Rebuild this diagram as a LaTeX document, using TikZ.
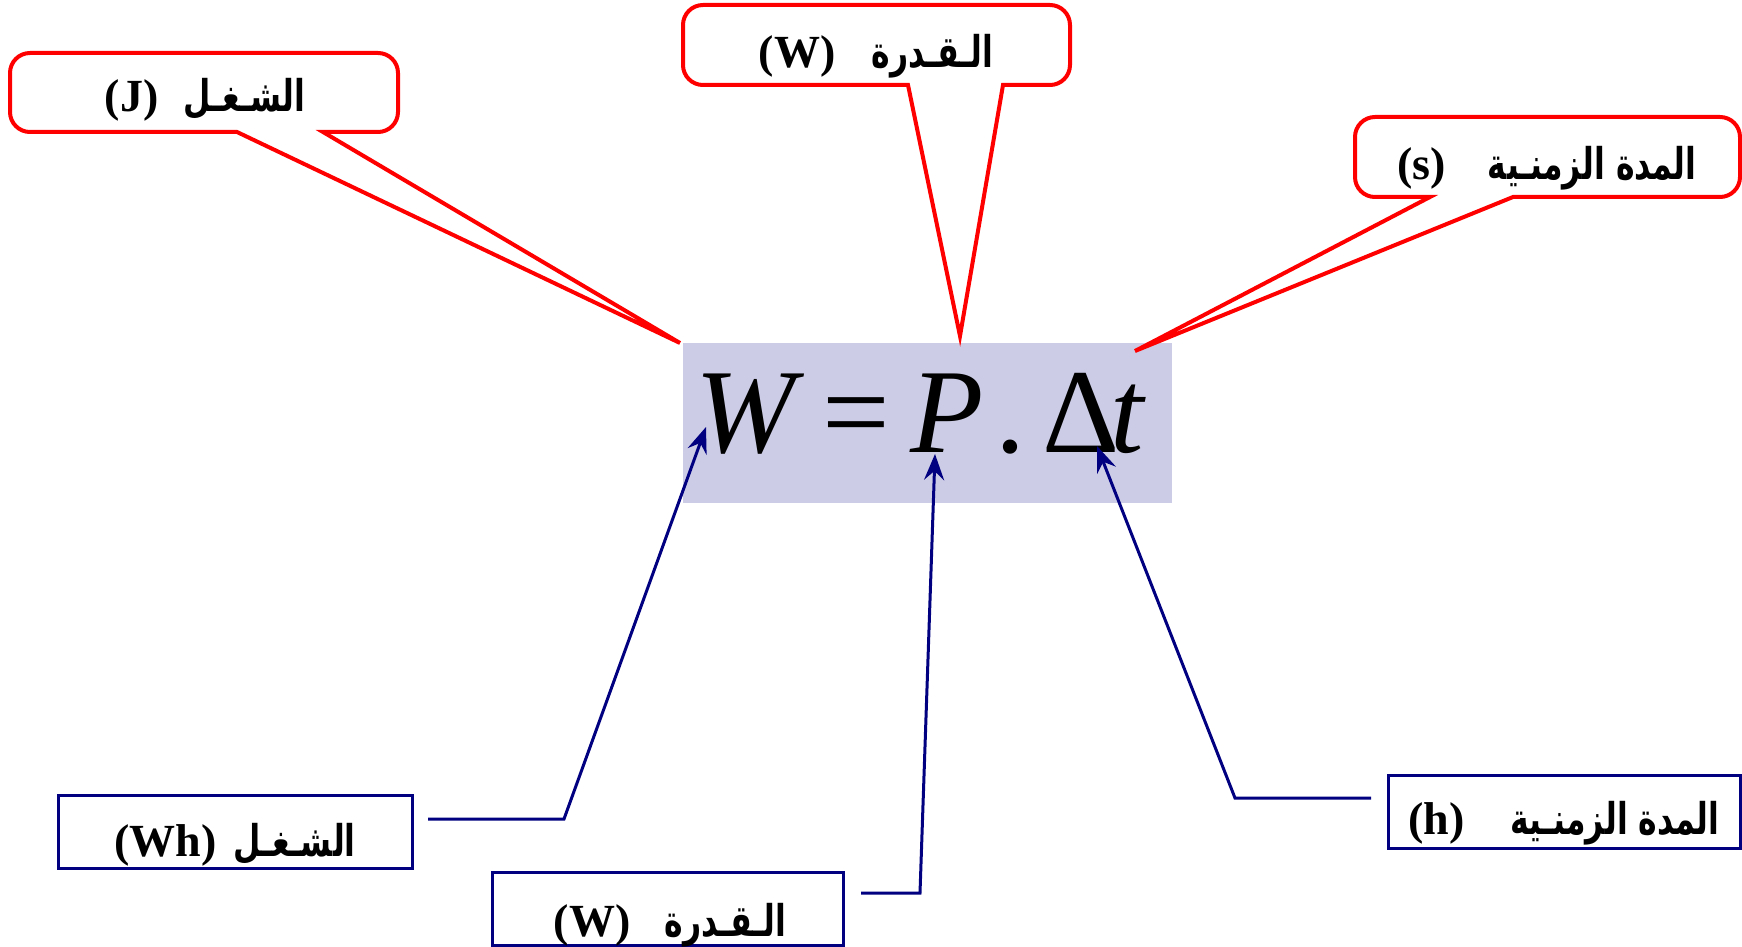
\documentclass[tikz,border=0pt]{standalone}
\usepackage{fontspec}
\setmainfont{Liberation Serif}
\newfontfamily\arabicfont[Script=Arabic,Scale=0.95,FakeStretch=0.72]{DejaVu Sans}
\TeXXeTstate=1
\usetikzlibrary{arrows.meta}
\definecolor{navyb}{RGB}{0,0,128}
\definecolor{fbg}{RGB}{204,204,230}
\begin{document}
\begin{tikzpicture}[x=0.5pt,y=-0.5pt,
  lbl/.style={font=\fontsize{23}{27}\selectfont\bfseries, inner sep=0, anchor=base},
  callout/.style={draw=red, line width=2pt, line join=miter},
  bbox/.style={draw=navyb, line width=1.5pt, inner sep=0},
  conn/.style={draw=navyb, line width=1.5pt, -{Stealth[length=13pt,width=10pt,inset=4.5pt]}},
  glyph/.style={font=\fontsize{60}{70}\selectfont, inner sep=0, anchor=base west}]
\useasboundingbox (0,0) rectangle (1742,947);

% formula box
\node[fill=fbg, inner sep=0, minimum width=244.5pt, minimum height=80pt] (formula) at (927.5,423) {};
\node[glyph] (fW) at (695,452) {\itshape W};
\node[glyph] (feq) at (822,452) {=};
\node[glyph] (fP) at (910,452) {\itshape P};
\node[glyph] (fdot) at (995,452) {.};
\node[glyph] (fD) at (1042,452) {Δ};
\node[glyph] (ft) at (1110,452) {\itshape t};

% callout tips
\coordinate (c1tip) at (680,343);
\coordinate (c2tip) at (960,336);
\coordinate (c3tip) at (1135,351);

% callout 1
\draw[callout] (237,132) -- (c1tip) -- (323,132) -- (360,132) [rounded corners=10pt] -- (398,132) -- (398,53) -- (10,53) -- (10,132) -- (200,132) [sharp corners] -- cycle;
\node[lbl] (t1) at (205,112) {(J)\hspace{12.5pt}{\arabicfont\beginR الشـغـل\endR}};

% callout 2
\draw[callout] (908,85) -- (c2tip) -- (1003,85) -- (1040,85) [rounded corners=10pt] -- (1070,85) -- (1070,5) -- (683,5) -- (683,85) -- (880,85) [sharp corners] -- cycle;
\node[lbl] (t2) at (876,68) {(W)\hspace{18pt}{\arabicfont\beginR الـقـدرة\endR}};

% callout 3
\draw[callout] (1430,197) -- (c3tip) -- (1513,197) -- (1560,197) [rounded corners=10pt] -- (1740,197) -- (1740,117) -- (1355,117) -- (1355,197) -- (1400,197) [sharp corners] -- cycle;
\node[lbl] (t3) at (1547,180) {(s)\hspace{21pt}{\arabicfont\beginR المدة الزمنـية\endR}};

% blue boxes
\node[bbox, minimum width=177pt, minimum height=36.5pt] (b1) at (235,831.5) {};
\node[lbl] (tb1) at (235,856) {(Wh)\hspace{8.5pt}{\arabicfont\beginR الشـغـل\endR}};
\node[bbox, minimum width=175.5pt, minimum height=36.5pt] (b2) at (667.5,908.5) {};
\node[lbl] (tb2) at (670,936) {(W)\hspace{17pt}{\arabicfont\beginR الـقـدرة\endR}};
\node[bbox, minimum width=176pt, minimum height=36.5pt] (b3) at (1564,811.5) {};
\node[lbl] (tb3) at (1564,834) {(h)\hspace{23pt}{\arabicfont\beginR المدة الزمنـية\endR}};

% connectors
\coordinate (s1) at (428,819);
\coordinate (k1) at (564,819);
\coordinate (a1) at (706,427);
\coordinate (s2) at (861,893);
\coordinate (k2) at (920,893);
\coordinate (a2) at (935,454);
\coordinate (s3) at (1371,798);
\coordinate (k3) at (1235,798);
\coordinate (a3) at (1097,446);
\draw[conn] (s1) -- (k1) -- (a1);
\draw[conn] (s2) -- (k2) -- (a2);
\draw[conn] (s3) -- (k3) -- (a3);
\end{tikzpicture}
\end{document}
